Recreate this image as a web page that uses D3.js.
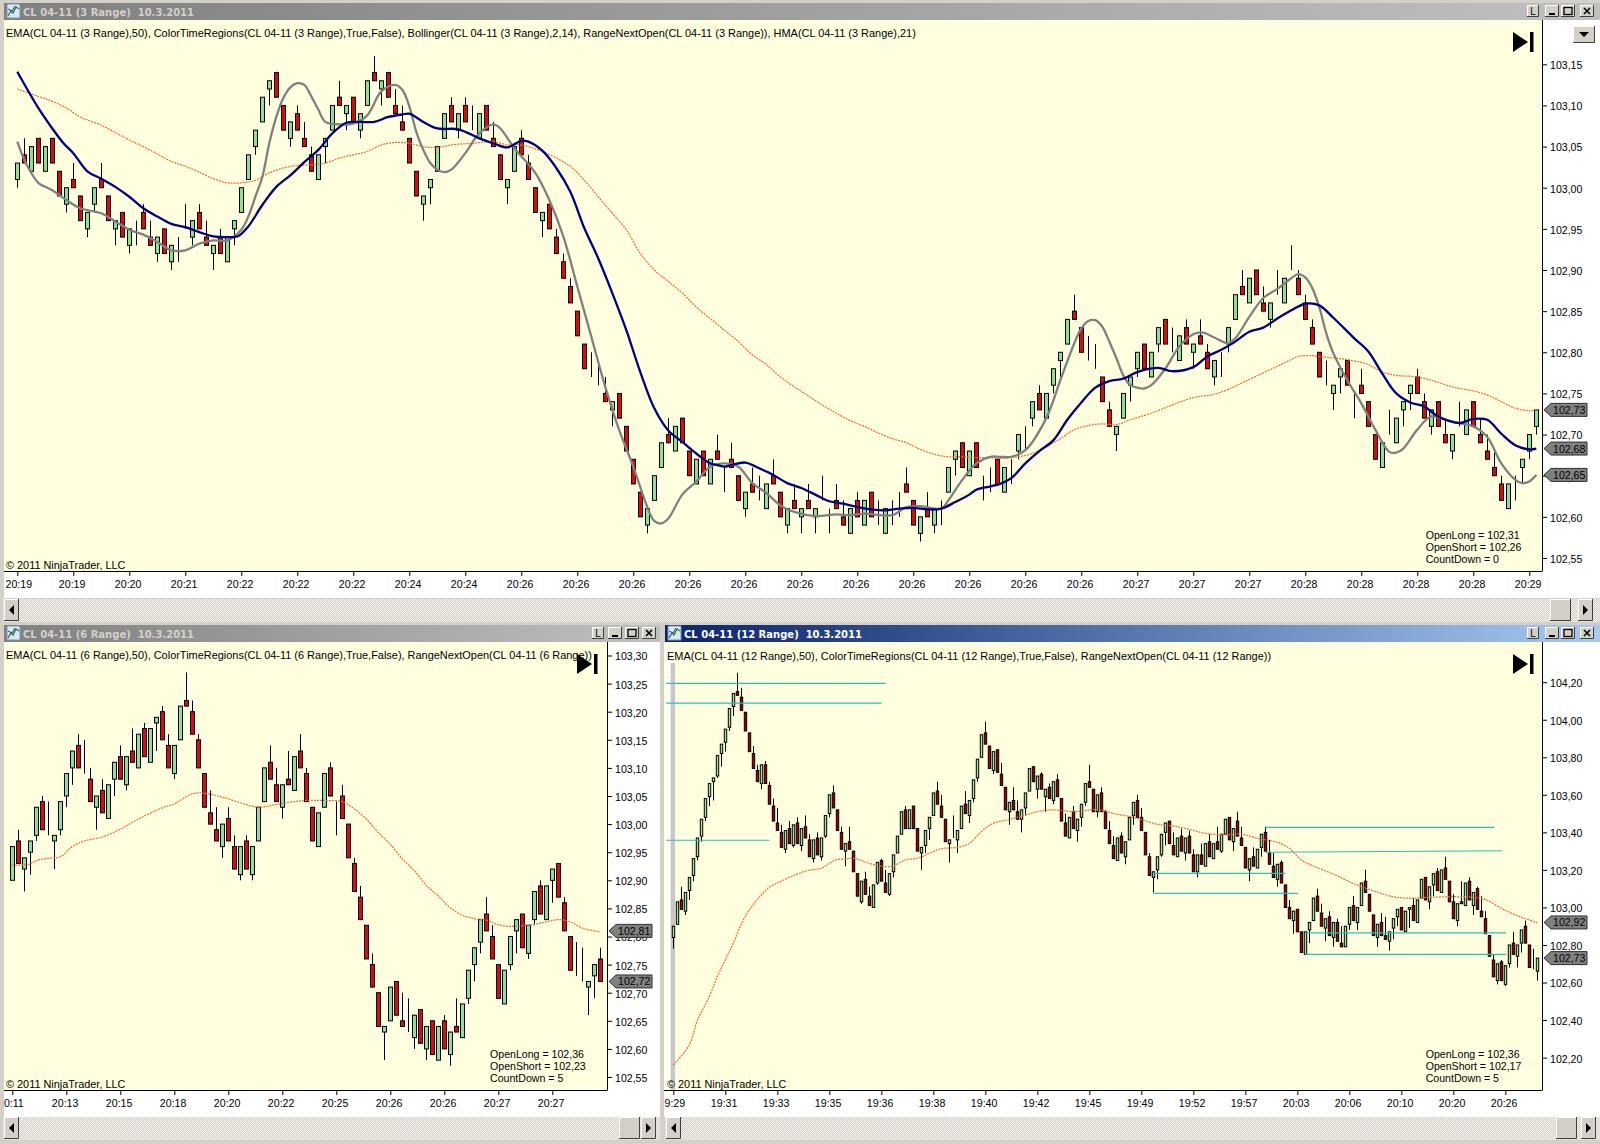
<!DOCTYPE html>
<html>
<head>
<meta charset="utf-8">
<title>CL 04-11 range charts</title>
<script src="https://cdnjs.cloudflare.com/ajax/libs/d3/7.8.5/d3.min.js"></script>
<style>
  html, body { margin: 0; padding: 0; background: #fff; }
  svg { display: block; }
  text { font-family: "Liberation Sans", Arial, sans-serif; white-space: pre; }
</style>
</head>
<body>
<script>
// ---- 3 range chart values ----
const open3 = [
103.01,103.04,103.02,103.06,103.02,103.06,103.02,102.98,103.01,102.99,
102.95,102.98,103.01,102.99,102.95,102.97,102.93,102.96,102.97,102.94,
102.92,102.95,102.91,102.94,102.95,102.94,102.97,102.94,102.92,102.94,
102.91,102.95,102.97,103.01,103.05,103.08,103.12,103.14,103.10,103.06,
103.09,103.06,103.04,103.01,103.05,103.07,103.11,103.09,103.11,103.07,
103.10,103.14,103.12,103.14,103.10,103.08,103.06,103.02,102.98,103.00,
103.02,103.06,103.10,103.07,103.10,103.07,103.06,103.10,103.06,103.04,
103.00,103.02,103.06,103.03,103.00,102.96,102.98,102.94,102.91,102.88,
102.85,102.81,102.77,102.76,102.75,102.73,102.75,102.71,102.67,102.63,
102.59,102.62,102.66,102.70,102.68,102.72,102.68,102.64,102.68,102.64,
102.68,102.66,102.67,102.65,102.61,102.64,102.62,102.61,102.65,102.63,
102.59,102.62,102.60,102.62,102.60,102.62,102.61,102.62,102.60,102.58,
102.62,102.59,102.63,102.59,102.58,102.62,102.63,102.64,102.62,102.58,
102.61,102.59,102.62,102.63,102.67,102.69,102.65,102.69,102.65,102.66,
102.67,102.63,102.67,102.68,102.71,102.72,102.75,102.72,102.76,102.79,
102.81,102.85,102.83,102.79,102.78,102.77,102.73,102.70,102.72,102.76,
102.78,102.81,102.77,102.81,102.84,102.80,102.79,102.83,102.80,102.82,
102.80,102.77,102.80,102.81,102.84,102.88,102.86,102.90,102.86,102.84,
102.87,102.86,102.90,102.89,102.86,102.83,102.80,102.76,102.75,102.77,
102.79,102.75,102.76,102.74,102.70,102.66,102.70,102.69,102.73,102.75,
102.77,102.74,102.71,102.74,102.70,102.68,102.71,102.70,102.74,102.70,
102.68,102.66,102.64,102.61,102.65,102.66,102.68,102.71];
const close3 = [
103.03,103.03,103.05,103.03,103.05,103.03,102.99,103.00,103.00,102.96,
102.97,103.00,103.00,102.96,102.96,102.94,102.95,102.96,102.95,102.93,
102.94,102.92,102.93,102.94,102.95,102.96,102.95,102.93,102.93,102.92,
102.94,102.96,103.00,103.04,103.07,103.11,103.13,103.11,103.07,103.08,
103.07,103.05,103.02,103.04,103.06,103.10,103.10,103.10,103.08,103.09,
103.13,103.13,103.13,103.11,103.09,103.07,103.03,102.99,102.99,103.01,
103.05,103.09,103.08,103.09,103.08,103.07,103.09,103.07,103.05,103.01,
103.01,103.05,103.04,103.01,102.97,102.97,102.95,102.92,102.89,102.86,
102.82,102.78,102.77,102.76,102.74,102.74,102.72,102.68,102.64,102.60,
102.61,102.65,102.69,102.69,102.71,102.69,102.65,102.67,102.65,102.67,
102.67,102.66,102.66,102.62,102.63,102.63,102.62,102.64,102.64,102.60,
102.61,102.61,102.61,102.61,102.61,102.62,102.61,102.61,102.59,102.61,
102.60,102.62,102.60,102.59,102.61,102.62,102.63,102.63,102.59,102.60,
102.60,102.61,102.62,102.66,102.68,102.66,102.68,102.66,102.65,102.66,
102.64,102.66,102.67,102.70,102.71,102.74,102.73,102.75,102.78,102.80,
102.84,102.84,102.80,102.79,102.78,102.74,102.71,102.71,102.75,102.77,
102.80,102.78,102.80,102.83,102.81,102.80,102.82,102.81,102.81,102.81,
102.78,102.79,102.80,102.83,102.87,102.87,102.89,102.87,102.85,102.86,
102.87,102.89,102.90,102.87,102.84,102.81,102.77,102.76,102.76,102.78,
102.76,102.75,102.75,102.71,102.67,102.69,102.70,102.72,102.74,102.76,
102.75,102.72,102.73,102.71,102.69,102.70,102.71,102.73,102.71,102.69,
102.67,102.65,102.62,102.64,102.65,102.67,102.70,102.73];
const high3 = [
103.03,103.06,103.05,103.06,103.05,103.06,103.02,103.00,103.03,102.99,
102.97,103.00,103.03,102.99,102.96,102.97,102.95,102.96,102.98,102.96,
102.94,102.95,102.93,102.94,102.98,102.96,102.98,102.96,102.93,102.95,
102.94,102.96,103.00,103.04,103.07,103.11,103.13,103.14,103.10,103.08,
103.10,103.08,103.05,103.04,103.06,103.10,103.13,103.10,103.11,103.09,
103.13,103.16,103.13,103.14,103.12,103.10,103.06,103.02,102.99,103.01,
103.05,103.09,103.11,103.09,103.11,103.10,103.09,103.10,103.08,103.04,
103.01,103.05,103.07,103.04,103.00,102.97,102.98,102.95,102.92,102.89,
102.85,102.81,102.80,102.79,102.77,102.74,102.75,102.71,102.67,102.63,
102.61,102.65,102.69,102.72,102.71,102.72,102.68,102.67,102.68,102.67,
102.70,102.66,102.69,102.65,102.63,102.66,102.65,102.64,102.67,102.63,
102.61,102.64,102.61,102.64,102.61,102.65,102.61,102.64,102.62,102.61,
102.63,102.62,102.63,102.62,102.61,102.62,102.63,102.66,102.62,102.60,
102.63,102.61,102.62,102.66,102.68,102.69,102.68,102.69,102.65,102.66,
102.67,102.66,102.67,102.70,102.71,102.74,102.76,102.75,102.78,102.80,
102.84,102.87,102.83,102.82,102.81,102.77,102.74,102.71,102.75,102.77,
102.80,102.81,102.80,102.83,102.84,102.83,102.82,102.84,102.81,102.84,
102.81,102.79,102.80,102.83,102.87,102.90,102.89,102.90,102.88,102.86,
102.90,102.89,102.93,102.90,102.87,102.84,102.80,102.79,102.76,102.78,
102.79,102.75,102.78,102.74,102.70,102.69,102.73,102.72,102.74,102.76,
102.78,102.75,102.73,102.74,102.72,102.70,102.74,102.73,102.74,102.72,
102.70,102.68,102.65,102.64,102.65,102.67,102.70,102.73];
const low3 = [
103.00,103.03,103.02,103.03,103.02,103.03,102.99,102.97,103.00,102.96,
102.94,102.97,103.00,102.96,102.93,102.94,102.92,102.93,102.95,102.93,
102.91,102.92,102.90,102.91,102.95,102.93,102.95,102.93,102.90,102.92,
102.91,102.93,102.97,103.01,103.04,103.08,103.10,103.11,103.07,103.05,
103.07,103.05,103.02,103.01,103.03,103.07,103.10,103.07,103.08,103.06,
103.10,103.13,103.10,103.11,103.09,103.07,103.03,102.99,102.96,102.98,
103.02,103.06,103.08,103.06,103.08,103.07,103.06,103.07,103.05,103.01,
102.98,103.02,103.04,103.01,102.97,102.94,102.95,102.92,102.89,102.86,
102.82,102.78,102.77,102.76,102.74,102.71,102.72,102.68,102.64,102.60,
102.58,102.62,102.66,102.69,102.68,102.69,102.65,102.64,102.65,102.64,
102.67,102.63,102.66,102.62,102.60,102.63,102.62,102.61,102.64,102.60,
102.58,102.61,102.58,102.61,102.58,102.62,102.58,102.61,102.59,102.58,
102.60,102.59,102.60,102.59,102.58,102.59,102.60,102.63,102.59,102.57,
102.60,102.58,102.59,102.63,102.65,102.66,102.65,102.66,102.62,102.63,
102.64,102.63,102.64,102.67,102.68,102.71,102.73,102.72,102.75,102.77,
102.81,102.84,102.80,102.79,102.78,102.74,102.71,102.68,102.72,102.74,
102.77,102.78,102.77,102.80,102.81,102.80,102.79,102.81,102.78,102.81,
102.78,102.76,102.77,102.80,102.84,102.87,102.86,102.87,102.85,102.83,
102.87,102.86,102.90,102.87,102.84,102.81,102.77,102.76,102.73,102.75,
102.76,102.72,102.75,102.71,102.67,102.66,102.70,102.69,102.71,102.73,
102.75,102.72,102.70,102.71,102.69,102.67,102.71,102.70,102.71,102.69,
102.67,102.65,102.62,102.61,102.62,102.64,102.67,102.70];

const hmaIdx3 = [0,3,5,6.6,8,10,12,14,16,18,20,22,24,26,28,30,31.5,33,35,37,39,41,43,45,47,49,51,53,55,56,58,60,63,66,68,70,72,73,75,77,79,81,83,85,87,89,91,93,95,97,99,100,101,102,104,106,108,110,112,114,116,118,120,122,124,126,128,130,132,134,136,137,139,140.4,142,144,146,148,150,152,154,156,158,160,163,165,168,170,172,174,176,178,180,182,184,186,188,191,193,195,197,199,201,203,206,208,210,212,214,216,217];
const hma3 = [103.141,103.097,103.072,103.054,103.042,103.02,103.011,103.001,102.989,102.975,102.965,102.956,102.952,102.946,102.941,102.94,102.941,102.953,102.979,103.001,103.015,103.031,103.046,103.066,103.079,103.08,103.08,103.086,103.089,103.09,103.08,103.072,103.071,103.06,103.054,103.049,103.057,103.056,103.045,103.024,102.995,102.951,102.914,102.872,102.827,102.776,102.732,102.705,102.691,102.677,102.665,102.663,102.661,102.663,102.666,102.659,102.651,102.641,102.635,102.627,102.619,102.616,102.612,102.609,102.608,102.61,102.611,102.609,102.61,102.618,102.627,102.633,102.637,102.64,102.647,102.665,102.68,102.693,102.718,102.739,102.757,102.765,102.768,102.776,102.781,102.777,102.782,102.795,102.803,102.813,102.825,102.83,102.841,102.851,102.859,102.857,102.842,102.817,102.801,102.774,102.75,102.739,102.734,102.722,102.714,102.719,102.718,102.701,102.687,102.682,102.683];
const bollIdx3 = [0,1,2,3,5,7,9,12,14,16,18,20,22,24,26,28,30,32,33,34,35,36,37,38,39,40,41,42,43,44,46,48,50,52,54,55,56,57,58,59,60,61,62,64,66,68,69,71,74,76,78,80,82,84,86,88,90,91,92,93,95,97,99,101,103,105,107,109,111,114,117,119,121,125,127,129,132,133,135,137,139,140.4,142,144,147,149,151,152,153,154,155,156,157,158,159,160,161,162,164,166,168,169.4,171,173,174,176,178,180,182,183,184,185,186,187,188,190,192,194,196,197,198,200,202,204,206,208,210,212,214,215,216,217];
const boll3 = [103.056,103.034,103.018,103.006,102.997,102.985,102.975,102.969,102.959,102.949,102.943,102.934,102.924,102.924,102.932,102.936,102.936,102.949,102.965,102.989,103.013,103.054,103.086,103.109,103.122,103.127,103.125,103.111,103.095,103.08,103.077,103.078,103.088,103.117,103.125,103.119,103.099,103.068,103.046,103.03,103.022,103.019,103.022,103.042,103.066,103.077,103.072,103.048,103.018,102.985,102.941,102.88,102.819,102.758,102.705,102.661,102.612,102.595,102.592,102.598,102.627,102.643,102.661,102.665,102.661,102.641,102.629,102.614,102.606,102.601,102.603,102.602,102.604,102.602,102.612,102.613,102.61,102.62,102.645,102.665,102.673,102.673,102.673,102.681,102.72,102.766,102.811,102.829,102.838,102.839,102.831,102.813,102.793,102.772,102.76,102.757,102.756,102.76,102.78,102.807,102.822,102.824,102.818,102.811,102.817,102.843,102.866,102.877,102.89,102.895,102.891,102.878,102.855,102.823,102.799,102.766,102.738,102.706,102.679,102.678,102.683,102.706,102.722,102.718,102.714,102.71,102.697,102.665,102.645,102.641,102.643,102.651];
const emaIdx3 = [0,3,5,7,9,12,14,16,18,20,22,24,26,28,30,32,34,36,38,40,42,44,46,48,50,52,54,56,58,60,62,65,68,70,72,75,79,81,83,85,87,89,91,93,95,97,99,101,103,105,107,109,111,113,115,117,119,121,123,125,127,129,131,133,135,137,139,140.4,143,145,147,149,151,153,155,157,159,162,165,168,171,173,175,178,181,183,184.5,187,190,193,195,197,200,202,205,208,210,212,214,216,217];
const ema3 = [103.12,103.111,103.105,103.097,103.086,103.076,103.067,103.058,103.05,103.041,103.032,103.026,103.019,103.011,103.006,103.006,103.009,103.018,103.024,103.027,103.028,103.03,103.036,103.04,103.044,103.052,103.055,103.054,103.05,103.049,103.052,103.054,103.056,103.052,103.052,103.044,103.026,103.009,102.989,102.969,102.949,102.92,102.90,102.886,102.872,102.855,102.841,102.827,102.813,102.797,102.785,102.77,102.758,102.747,102.736,102.726,102.717,102.71,102.702,102.695,102.69,102.682,102.676,102.673,102.673,102.672,102.672,102.671,102.673,102.677,102.685,102.695,102.706,102.711,102.713,102.712,102.718,102.726,102.736,102.745,102.749,102.755,102.763,102.775,102.787,102.795,102.796,102.794,102.791,102.785,102.776,102.772,102.77,102.766,102.758,102.753,102.748,102.74,102.732,102.729,102.73];
const ticks3 = [102.55,102.60,102.65,102.70,102.75,102.80,102.85,102.90,102.95,103.00,103.05,103.10,103.15];
const times3 = ["20:19","20:19","20:20","20:21","20:22","20:22","20:22","20:24","20:24","20:26","20:26","20:26","20:26","20:26","20:26","20:26","20:26","20:26","20:26","20:26","20:27","20:27","20:27","20:28","20:28","20:28","20:28","20:29"];
const flags3 = [102.73,102.683,102.651];
const info3 = ["OpenLong = 102,31","OpenShort = 102,26","CountDown = 0"];

// ---- 6 range chart values ----
const open6 = [
102.90,102.97,102.92,102.95,102.98,103.04,102.98,102.97,102.99,103.05,
103.10,103.14,103.09,103.08,103.03,103.06,103.01,103.08,103.12,103.07,
103.13,103.10,103.17,103.11,103.18,103.20,103.14,103.09,103.15,103.22,
103.20,103.15,103.09,103.02,102.99,102.96,103.01,102.96,102.91,102.97,
102.91,102.97,103.04,103.11,103.07,103.03,103.08,103.06,103.13,103.09,
103.03,102.96,103.03,103.10,103.04,103.05,103.00,102.93,102.87,102.82,
102.75,102.70,102.63,102.65,102.72,102.65,102.63,102.62,102.67,102.60,
102.65,102.58,102.65,102.59,102.64,102.62,102.69,102.75,102.79,102.84,
102.80,102.75,102.68,102.75,102.81,102.84,102.77,102.83,102.89,102.83,
102.90,102.93,102.86,102.80,102.73,102.72,102.71,102.73,102.76];
const close6 = [
102.96,102.93,102.94,102.97,103.03,102.99,102.98,102.98,103.04,103.09,
103.13,103.10,103.09,103.04,103.05,103.02,103.07,103.11,103.08,103.12,
103.11,103.16,103.12,103.17,103.19,103.15,103.10,103.14,103.21,103.21,
103.16,103.10,103.03,103.00,102.97,103.00,102.97,102.92,102.96,102.92,
102.96,103.03,103.10,103.08,103.04,103.07,103.07,103.12,103.10,103.04,
102.97,103.02,103.09,103.05,103.04,103.01,102.94,102.88,102.83,102.76,
102.71,102.64,102.64,102.71,102.66,102.64,102.63,102.66,102.61,102.64,
102.59,102.64,102.60,102.63,102.63,102.68,102.74,102.78,102.83,102.81,
102.76,102.69,102.74,102.80,102.83,102.78,102.82,102.88,102.84,102.89,
102.92,102.87,102.81,102.74,102.73,102.72,102.72,102.75,102.72];
const high6 = [
102.96,102.99,102.94,102.97,103.03,103.05,103.04,102.98,103.04,103.09,
103.13,103.16,103.15,103.10,103.05,103.08,103.07,103.11,103.14,103.12,
103.17,103.16,103.18,103.17,103.19,103.21,103.16,103.14,103.21,103.27,
103.22,103.16,103.09,103.06,103.03,103.00,103.03,102.98,102.96,102.98,
102.96,103.03,103.10,103.14,103.10,103.07,103.13,103.12,103.16,103.10,
103.03,103.02,103.09,103.11,103.04,103.07,103.00,102.94,102.89,102.82,
102.77,102.70,102.64,102.71,102.72,102.70,102.69,102.66,102.67,102.64,
102.65,102.64,102.66,102.63,102.69,102.68,102.74,102.78,102.83,102.87,
102.82,102.75,102.74,102.80,102.83,102.84,102.82,102.88,102.90,102.89,
102.92,102.93,102.87,102.80,102.79,102.78,102.72,102.75,102.78];
const low6 = [
102.90,102.93,102.88,102.91,102.97,102.99,102.98,102.92,102.98,103.03,
103.07,103.10,103.09,103.04,102.99,103.02,103.01,103.05,103.08,103.06,
103.11,103.10,103.12,103.11,103.13,103.15,103.10,103.08,103.15,103.21,
103.16,103.10,103.03,103.00,102.97,102.94,102.97,102.92,102.90,102.92,
102.90,102.97,103.04,103.08,103.04,103.01,103.07,103.06,103.10,103.04,
102.97,102.96,103.03,103.05,102.98,103.01,102.94,102.88,102.83,102.76,
102.71,102.64,102.58,102.65,102.66,102.64,102.63,102.60,102.61,102.58,
102.59,102.58,102.60,102.57,102.63,102.62,102.68,102.72,102.77,102.81,
102.76,102.69,102.68,102.74,102.77,102.78,102.76,102.82,102.84,102.83,
102.86,102.87,102.81,102.74,102.73,102.72,102.66,102.69,102.72];
const emaIdx6 = [0,3,4,6,8,10,12,15,18,21,25,27,30,32,35,38,41,44,47,49,52,55,57,59,61,63,65,67,69,71,73,75,77,79,81,83,86,89,91,93,95,98];
const ema6 = [102.927,102.929,102.935,102.939,102.942,102.96,102.97,102.977,102.991,103.009,103.029,103.036,103.054,103.055,103.048,103.038,103.03,103.035,103.04,103.042,103.042,103.04,103.027,103.009,102.985,102.964,102.938,102.917,102.891,102.872,102.851,102.838,102.832,102.829,102.821,102.818,102.82,102.826,102.83,102.826,102.815,102.808];
const ticks6 = [102.55,102.60,102.65,102.70,102.75,102.80,102.85,102.90,102.95,103.00,103.05,103.10,103.15,103.20,103.25,103.30];
const times6 = ["0:11","20:13","20:15","20:18","20:20","20:22","20:25","20:26","20:26","20:27","20:27"];
const flags6 = [102.81,102.72];
const info6 = ["OpenLong = 102,36","OpenShort = 102,23","CountDown = 5"];

// ---- 12 range chart values ----
const open12 = [
102.84,102.91,103.04,102.98,103.09,103.17,103.27,103.38,103.48,103.59,
103.67,103.70,103.82,103.88,103.96,104.07,104.15,104.12,104.04,103.93,
103.82,103.73,103.66,103.76,103.65,103.54,103.45,103.40,103.31,103.42,
103.33,103.45,103.33,103.43,103.36,103.26,103.37,103.27,103.38,103.50,
103.61,103.52,103.40,103.30,103.35,103.30,103.18,103.03,103.15,103.06,
103.00,103.13,103.25,103.13,103.07,103.19,103.29,103.39,103.52,103.42,
103.54,103.42,103.29,103.33,103.42,103.49,103.62,103.54,103.47,103.34,
103.37,103.36,103.42,103.55,103.49,103.58,103.69,103.80,103.93,103.86,
103.73,103.84,103.71,103.64,103.51,103.57,103.51,103.47,103.53,103.62,
103.75,103.63,103.71,103.59,103.64,103.57,103.68,103.58,103.45,103.37,
103.51,103.41,103.48,103.56,103.67,103.63,103.51,103.61,103.51,103.41,
103.33,103.25,103.38,103.27,103.36,103.49,103.57,103.48,103.40,103.27,
103.16,103.20,103.28,103.40,103.46,103.33,103.27,103.38,103.29,103.38,
103.28,103.19,103.28,103.22,103.35,103.26,103.35,103.30,103.39,103.48,
103.35,103.46,103.37,103.32,103.20,103.27,103.21,103.32,103.40,103.29,
103.22,103.15,103.24,103.12,103.00,102.93,102.99,102.87,102.75,102.88,
102.93,103.06,102.97,102.89,102.95,102.84,102.92,102.81,102.79,102.91,
103.01,102.92,103.01,103.14,103.07,102.96,102.84,102.92,102.85,102.82,
102.89,102.95,103.00,102.87,102.99,103.01,102.92,103.05,103.16,103.03,
103.12,103.19,103.08,103.21,103.14,103.03,102.93,103.03,103.01,103.14,
103.01,103.10,102.98,102.94,102.85,102.72,102.61,102.71,102.59,102.70,
102.81,102.74,102.81,102.90,102.80,102.67,102.66];
const close12 = [
102.90,103.03,102.99,103.08,103.16,103.26,103.37,103.47,103.58,103.66,
103.69,103.81,103.87,103.95,104.06,104.14,104.13,104.05,103.94,103.83,
103.74,103.67,103.76,103.66,103.55,103.46,103.41,103.32,103.41,103.34,
103.44,103.34,103.42,103.37,103.27,103.36,103.28,103.37,103.49,103.60,
103.53,103.41,103.31,103.34,103.31,103.19,103.06,103.14,103.07,103.01,
103.12,103.24,103.14,103.08,103.18,103.28,103.38,103.51,103.42,103.52,
103.42,103.30,103.32,103.41,103.48,103.61,103.55,103.48,103.35,103.36,
103.37,103.41,103.54,103.50,103.57,103.68,103.79,103.92,103.87,103.74,
103.83,103.72,103.65,103.52,103.56,103.52,103.47,103.52,103.61,103.74,
103.67,103.70,103.63,103.63,103.58,103.67,103.59,103.46,103.38,103.48,
103.42,103.47,103.55,103.66,103.64,103.51,103.60,103.51,103.42,103.34,
103.26,103.37,103.29,103.35,103.48,103.56,103.48,103.41,103.28,103.17,
103.19,103.27,103.39,103.45,103.34,103.28,103.37,103.30,103.37,103.29,
103.19,103.28,103.23,103.34,103.27,103.34,103.31,103.39,103.47,103.36,
103.42,103.38,103.33,103.21,103.26,103.22,103.31,103.39,103.30,103.23,
103.16,103.23,103.13,103.00,102.94,102.98,102.87,102.76,102.87,102.92,
103.05,102.98,102.90,102.94,102.85,102.92,102.82,102.79,102.90,103.00,
102.93,103.00,103.13,103.08,102.98,102.85,102.91,102.85,102.83,102.87,
102.94,102.99,102.88,102.98,103.00,102.93,103.04,103.15,103.04,103.11,
103.18,103.09,103.20,103.15,103.03,102.94,103.02,103.02,103.13,103.04,
103.08,102.99,102.95,102.86,102.74,102.63,102.70,102.61,102.69,102.80,
102.75,102.80,102.88,102.81,102.68,102.67,102.73];
const high12 = [
102.90,103.03,103.11,103.08,103.16,103.26,103.37,103.47,103.58,103.66,
103.69,103.81,103.87,103.95,104.06,104.14,104.25,104.17,104.04,103.93,
103.86,103.76,103.76,103.78,103.67,103.58,103.53,103.44,103.41,103.46,
103.44,103.48,103.42,103.49,103.39,103.36,103.40,103.37,103.49,103.60,
103.65,103.52,103.43,103.34,103.43,103.30,103.18,103.14,103.19,103.11,
103.12,103.24,103.26,103.20,103.18,103.28,103.38,103.51,103.54,103.52,
103.54,103.42,103.32,103.41,103.48,103.61,103.67,103.60,103.47,103.36,
103.49,103.41,103.54,103.62,103.57,103.68,103.79,103.92,103.99,103.86,
103.83,103.84,103.77,103.64,103.56,103.64,103.57,103.52,103.61,103.74,
103.75,103.70,103.72,103.63,103.66,103.67,103.71,103.58,103.50,103.48,
103.54,103.47,103.55,103.66,103.76,103.63,103.60,103.64,103.52,103.46,
103.38,103.37,103.40,103.35,103.48,103.56,103.60,103.53,103.40,103.29,
103.19,103.27,103.39,103.45,103.46,103.40,103.37,103.42,103.37,103.41,
103.31,103.28,103.34,103.34,103.39,103.34,103.43,103.39,103.47,103.48,
103.42,103.51,103.43,103.32,103.26,103.32,103.31,103.39,103.43,103.36,
103.29,103.23,103.25,103.12,103.04,102.98,102.99,102.87,102.87,102.92,
103.05,103.10,103.02,102.94,102.98,102.92,102.94,102.90,102.90,103.00,
103.06,103.00,103.13,103.20,103.07,102.96,102.91,102.97,102.95,102.87,
102.94,102.99,103.00,102.98,103.00,103.05,103.04,103.15,103.16,103.11,
103.18,103.21,103.20,103.27,103.14,103.07,103.02,103.14,103.13,103.16,
103.08,103.11,103.06,102.98,102.85,102.75,102.70,102.72,102.69,102.80,
102.87,102.80,102.88,102.93,102.80,102.78,102.73];
const low12 = [
102.78,102.91,102.99,102.96,103.04,103.14,103.25,103.35,103.46,103.54,
103.57,103.69,103.75,103.83,103.94,104.02,104.13,104.05,103.94,103.83,
103.74,103.67,103.63,103.66,103.55,103.46,103.41,103.32,103.29,103.34,
103.32,103.34,103.30,103.37,103.27,103.24,103.28,103.25,103.37,103.48,
103.53,103.41,103.31,103.22,103.31,103.19,103.06,103.02,103.07,103.01,
103.00,103.12,103.14,103.08,103.06,103.16,103.29,103.39,103.42,103.42,
103.42,103.30,103.20,103.29,103.36,103.49,103.55,103.48,103.35,103.24,
103.37,103.29,103.42,103.50,103.45,103.56,103.67,103.80,103.87,103.74,
103.71,103.72,103.65,103.52,103.44,103.52,103.47,103.40,103.49,103.62,
103.67,103.58,103.63,103.51,103.58,103.55,103.59,103.46,103.38,103.37,
103.42,103.35,103.43,103.54,103.64,103.51,103.48,103.51,103.42,103.34,
103.26,103.25,103.29,103.23,103.36,103.44,103.48,103.41,103.28,103.17,
103.08,103.15,103.27,103.33,103.34,103.28,103.27,103.30,103.25,103.29,
103.19,103.16,103.23,103.22,103.27,103.26,103.31,103.29,103.39,103.36,
103.30,103.38,103.33,103.21,103.14,103.22,103.21,103.27,103.30,103.23,
103.16,103.11,103.13,103.00,102.94,102.86,102.87,102.76,102.75,102.81,
102.93,102.98,102.90,102.82,102.85,102.79,102.82,102.79,102.79,102.88,
102.93,102.88,103.01,103.08,102.98,102.85,102.79,102.85,102.83,102.77,
102.83,102.90,102.88,102.87,102.89,102.93,102.92,103.05,103.04,102.99,
103.06,103.09,103.08,103.15,103.03,102.94,102.90,103.02,103.01,103.04,
102.96,102.99,102.95,102.86,102.74,102.63,102.59,102.61,102.58,102.68,
102.75,102.68,102.76,102.81,102.68,102.67,102.61];
const emaIdx12 = [0,4,6,9,11,13,15,17,19,22,24,27,30,34,37,39,41,43,45,49,53,55,58,61,64,67,71,74,77,80,84,88,92,96,100,104,107,110,115,121,125,129,133,138,142,146,151,154,157,160,165,170,175,180,184,189,195,200,203,207,211,216];
const ema12 = [102.16,102.267,102.397,102.525,102.631,102.72,102.809,102.912,102.986,103.066,103.107,103.14,103.169,103.199,103.208,103.235,103.256,103.258,103.262,103.235,103.217,103.221,103.253,103.262,103.288,103.313,103.32,103.341,103.404,103.448,103.469,103.492,103.515,103.519,103.51,103.519,103.519,103.501,103.48,103.443,103.434,103.416,103.395,103.386,103.391,103.368,103.347,103.315,103.253,103.221,103.178,103.128,103.089,103.057,103.049,103.054,103.057,103.054,103.043,102.995,102.956,102.919];
const ticks12 = [102.20,102.40,102.60,102.80,103.00,103.20,103.40,103.60,103.80,104.00,104.20];
const times12 = ["9:29","19:31","19:33","19:35","19:36","19:38","19:40","19:42","19:45","19:49","19:52","19:57","20:03","20:06","20:10","20:20","20:26"];
const flags12 = [102.92,102.73];
const info12 = ["OpenLong = 102,36","OpenShort = 102,17","CountDown = 5"];
// RangeNextOpen levels drawn in the 12 range chart
const levelFrom12 = [-1.8,-1.8,-1.8,148,148,120,120,158.3,158];
const levelTo12 = [53.1,52.1,24,205.25,207.2,153,156.25,208.2,208.2];
const levelStart12 = [104.194,104.088,103.358,103.427,103.294,103.182,103.075,102.865,102.75];
const levelEnd12 = [104.194,104.088,103.358,103.427,103.302,103.182,103.075,102.865,102.75];

const svg = d3.select("body").append("svg").attr("width", 1600).attr("height", 1144);
const defs = svg.append("defs");

// the dithered scrollbar track
const dither = defs.append("pattern").attr("id", "dither").attr("width", 2).attr("height", 2).attr("patternUnits", "userSpaceOnUse");
dither.append("rect").attr("width", 2).attr("height", 2).attr("fill", "#D4D0C8");
dither.append("rect").attr("width", 1).attr("height", 1).attr("fill", "#F4F2EE");
dither.append("rect").attr("x", 1).attr("y", 1).attr("width", 1).attr("height", 1).attr("fill", "#F4F2EE");

function titleGradient(id, from, to) {
  const g = defs.append("linearGradient").attr("id", id);
  g.append("stop").attr("offset", "0%").attr("stop-color", from);
  g.append("stop").attr("offset", "100%").attr("stop-color", to);
}
titleGradient("titleOff", "#808080", "#C0C0C0");
titleGradient("titleOn", "#0A246A", "#A6CAF0");

svg.append("rect").attr("width", 1600).attr("height", 1144).attr("fill", "#D4D0C8");

function button(x, y, w, h) {
  svg.append("rect").attr("x", x).attr("y", y).attr("width", w).attr("height", h).attr("fill", "#D4D0C8");
  svg.append("path").attr("d", `M${x + .5},${y + h}V${y + .5}H${x + w}`).attr("fill", "none").attr("stroke", "#fff");
  svg.append("path").attr("d", `M${x + w - .5},${y}V${y + h - .5}H${x}`).attr("fill", "none").attr("stroke", "#404040");
}

function titleBar(x0, x1, y, text, active, btns) {
  svg.append("rect").attr("x", x0).attr("y", y).attr("width", x1 - x0).attr("height", 17)
    .attr("fill", active ? "url(#titleOn)" : "url(#titleOff)");
  // little chart icon
  svg.append("rect").attr("x", x0 + 3).attr("y", y + 1).attr("width", 13).attr("height", 14).attr("fill", "#DCE8F4").attr("stroke", "#8090B0");
  svg.append("path").attr("d", `M${x0 + 4},${y + 13}l3,-5l2,2l3,-6l3,2`).attr("fill", "none").attr("stroke", "#2F7F3F").attr("stroke-width", 1.4);
  svg.append("path").attr("d", `M${x0 + 4},${y + 6}l4,2l3,-5`).attr("fill", "none").attr("stroke", "#2040A0");
  svg.append("text").attr("x", x0 + 19).attr("y", y + 12.5).text(text)
    .style("font-family", '"DejaVu Sans", Verdana, sans-serif').style("font-weight", "bold").style("font-size", "10px")
    .attr("fill", active ? "#fff" : "#D4D0C8");
  const by = y + 2;
  // L, minimise, maximise, close
  button(btns[0], by, 12, 12);
  svg.append("text").attr("x", btns[0] + 6).attr("y", by + 10).attr("text-anchor", "middle").attr("fill", "#000").style("font-size", "10px").text("L");
  button(btns[1], by, 14, 12);
  svg.append("rect").attr("x", btns[1] + 4).attr("y", by + 8).attr("width", 6).attr("height", 2).attr("fill", "#000");
  button(btns[2], by, 14, 12);
  svg.append("rect").attr("x", btns[2] + 3).attr("y", by + 2.5).attr("width", 8).attr("height", 7).attr("fill", "none").attr("stroke", "#000").attr("stroke-width", 1.3);
  button(btns[3], by, 14, 12);
  svg.append("path").attr("d", `M${btns[3] + 4},${by + 3}l6,6m0,-6l-6,6`).attr("stroke", "#000").attr("stroke-width", 1.6);
}

function scrollBar(x0, x1, y, thumb, arrowBtn) {
  svg.append("rect").attr("x", x0).attr("y", y).attr("width", x1 - x0).attr("height", 23).attr("fill", "url(#dither)");
  button(x0 + 1, y, 15, 22);
  svg.append("path").attr("d", `M${x0 + 6},${y + 11}l5,-5v10z`).attr("fill", "#000");
  button(thumb, y, 21, 22);
  button(arrowBtn, y, 15, 22);
  svg.append("path").attr("d", `M${arrowBtn + 10},${y + 11}l-5,-5v10z`).attr("fill", "#000");
}

// one chart window: candles, overlays, axes and labels
function drawChart(c) {
  // white pane
  svg.append("rect").attr("x", c.winX0).attr("y", c.plotTop).attr("width", c.winX1 - c.winX0).attr("height", c.winBottom - c.plotTop).attr("fill", "#fff");
  svg.append("rect").attr("x", c.plotLeft).attr("y", c.plotTop).attr("width", c.plotRight - c.plotLeft).attr("height", c.plotBottom - c.plotTop).attr("fill", "#FFFFE0");
  if (c.edgeLeft != null) {
    svg.append("rect").attr("x", c.edgeLeft).attr("y", c.plotTop).attr("width", c.plotLeft - c.edgeLeft).attr("height", c.plotBottom - c.plotTop).attr("fill", "#FFFFEE");
  }

  const x = d3.scaleLinear().domain([0, c.lastBar]).range(c.xRange);
  const y = d3.scaleLinear().domain(c.yDomain).range(c.yRange);

  const left = c.edgeLeft != null ? c.edgeLeft : c.plotLeft;
  const clipId = "clip" + c.id;
  defs.append("clipPath").attr("id", clipId).append("rect")
    .attr("x", left).attr("y", c.plotTop).attr("width", c.plotRight - left).attr("height", c.plotBottom - c.plotTop);

  // legend text
  svg.append("text").attr("x", c.legendX).attr("y", c.legendY).attr("fill", "#000").style("font-size", "10.94px").text(c.legend);

  const plot = svg.append("g").attr("clip-path", `url(#${clipId})`);

  if (c.regionBar != null) {
    plot.append("rect").attr("x", x(c.regionBar) - 2.3).attr("y", c.plotTop + 21).attr("width", 4.5).attr("height", c.plotBottom - c.plotTop).attr("fill", "#C8C8C8");
  }

  const bars = d3.range(c.open.length);
  // wicks
  plot.append("g").selectAll("line").data(bars).join("line")
    .attr("x1", i => Math.round(x(i)) + .5).attr("x2", i => Math.round(x(i)) + .5)
    .attr("y1", i => y(c.high[i])).attr("y2", i => y(c.low[i]))
    .attr("stroke", "#000").attr("stroke-width", 1);
  // bodies
  plot.append("g").selectAll("rect").data(bars).join("rect")
    .attr("x", i => Math.round(x(i)) + .5 - c.bodyW / 2)
    .attr("width", c.bodyW)
    .attr("y", i => y(Math.max(c.open[i], c.close[i])))
    .attr("height", i => Math.abs(y(c.open[i]) - y(c.close[i])))
    .attr("fill", i => c.close[i] > c.open[i] ? c.up : c.close[i] < c.open[i] ? c.down : "#000")
    .attr("stroke", "#000").attr("stroke-width", 1);

  const line = d3.line().x(d => x(d[0])).y(d => y(d[1])).curve(d3.curveCatmullRom.alpha(0.5));

  plot.append("path").datum(d3.zip(c.emaIdx, c.ema)).attr("d", line)
    .attr("fill", "none").attr("stroke", "#E8703A").attr("stroke-width", 1.25).attr("stroke-dasharray", "2,1");
  if (c.boll) {
    plot.append("path").datum(d3.zip(c.bollIdx, c.boll)).attr("d", line)
      .attr("fill", "none").attr("stroke", "#808080").attr("stroke-width", 2.3);
  }
  if (c.hma) {
    plot.append("path").datum(d3.zip(c.hmaIdx, c.hma)).attr("d", line)
      .attr("fill", "none").attr("stroke", "#000080").attr("stroke-width", 2.3);
  }
  // horizontal levels
  if (c.levelFrom) {
    plot.append("g").selectAll("line").data(c.levelFrom.map((d, i) => i)).join("line")
      .attr("x1", i => x(c.levelFrom[i])).attr("x2", i => x(c.levelTo[i]))
      .attr("y1", i => y(c.levelStart[i])).attr("y2", i => y(c.levelEnd[i]))
      .attr("stroke", "#30BDB8").attr("stroke-width", 1.2);
  }

  // right price axis
  const yAxis = d3.axisRight(y).tickValues(c.ticks).tickSize(5).tickPadding(3)
    .tickFormat(d => d.toFixed(2).replace(".", ","));
  const yG = svg.append("g").attr("transform", `translate(${c.plotRight},0)`).call(yAxis);
  yG.select(".domain").remove();
  yG.selectAll("text").style("font-family", '"Liberation Sans", Arial, sans-serif').style("font-size", "10.6px").attr("fill", "#000").attr("transform", "translate(0,1)");
  svg.append("line").attr("x1", c.plotRight + .5).attr("x2", c.plotRight + .5).attr("y1", c.plotTop + (c.axisTopGap || 0)).attr("y2", c.plotBottom + .5).attr("stroke", "#000");

  // bottom time axis
  const tickBars = c.times.map((d, i) => i * c.tickStep);
  const xAxis = d3.axisBottom(x).tickValues(tickBars).tickSize(5).tickPadding(3)
    .tickFormat(d => c.times[d / c.tickStep]);
  const xG = svg.append("g").attr("transform", `translate(0,${c.plotBottom})`).call(xAxis);
  xG.select(".domain").remove();
  xG.selectAll("text").style("font-family", '"Liberation Sans", Arial, sans-serif').style("font-size", "10.6px").attr("fill", "#000")
    .attr("transform", d => d === 0 ? "translate(1,1)" : "translate(-1.7,1)");
  svg.append("line").attr("x1", left).attr("x2", c.plotRight).attr("y1", c.plotBottom + .5).attr("y2", c.plotBottom + .5).attr("stroke", "#000");

  // last value flags on the price axis
  c.flags.forEach(v => {
    const fy = y(v), fx = c.plotRight + 2;
    svg.append("path").attr("d", `M${fx},${fy}l7,-6.5H${fx + 43}v13H${fx + 7}z`)
      .attr("fill", "#808080").attr("stroke", "#303030");
    svg.append("text").attr("x", fx + 9).attr("y", fy + 4).attr("fill", "#000").style("font-size", "10.6px")
      .text(v.toFixed(2).replace(".", ","));
  });

  // OpenLong / OpenShort / CountDown block
  c.info.forEach((t, i) => {
    svg.append("text").attr("x", c.infoX).attr("y", c.infoY + i * 12).attr("fill", "#000").style("font-size", "10.6px").text(t);
  });
  svg.append("text").attr("x", c.copyX).attr("y", c.plotBottom - 2.5).attr("fill", "#000").style("font-size", "10.9px").text("© 2011 NinjaTrader, LLC");

  // go-to-end marker
  const m = c.marker;
  svg.append("path").attr("d", `M${m[0]},${m[1]}l15,10l-15,10z`).attr("fill", "#000");
  svg.append("rect").attr("x", m[0] + 17).attr("y", m[1]).attr("width", 3.5).attr("height", 20).attr("fill", "#000");
}

// top window
drawChart({
  id: 3, winX0: 4, winX1: 1600, winBottom: 598, plotTop: 20, plotLeft: 4, plotRight: 1542, plotBottom: 571,
  lastBar: 217, xRange: [17.3, 1536.3], yDomain: [102.55, 103.15], yRange: [558, 64.3],
  open: open3, close: close3, high: high3, low: low3, bodyW: 4, up: "#90E090", down: "#DD0A0A",
  emaIdx: emaIdx3, ema: ema3, bollIdx: bollIdx3, boll: boll3, hmaIdx: hmaIdx3, hma: hma3,
  ticks: ticks3, times: times3, tickStep: 8, flags: flags3, info: info3, infoX: 1425.7, infoY: 538.5, copyX: 6,
  legend: "EMA(CL 04-11 (3 Range),50), ColorTimeRegions(CL 04-11 (3 Range),True,False), Bollinger(CL 04-11 (3 Range),2,14), RangeNextOpen(CL 04-11 (3 Range)), HMA(CL 04-11 (3 Range),21)",
  legendX: 6, legendY: 36.5, marker: [1513, 32]
});

// bottom left window
drawChart({
  id: 6, winX0: 4, winX1: 660, winBottom: 1117, plotTop: 642, plotLeft: 4, plotRight: 607, plotBottom: 1090,
  lastBar: 98, xRange: [12.3, 600.3], yDomain: [102.55, 103.30], yRange: [1077, 655.5],
  open: open6, close: close6, high: high6, low: low6, bodyW: 4, up: "#90E090", down: "#DD0A0A",
  emaIdx: emaIdx6, ema: ema6,
  ticks: ticks6, times: times6, tickStep: 9, flags: flags6, info: info6, infoX: 490, infoY: 1057.5, copyX: 6,
  legend: "EMA(CL 04-11 (6 Range),50), ColorTimeRegions(CL 04-11 (6 Range),True,False), RangeNextOpen(CL 04-11 (6 Range))",
  legendX: 6, legendY: 658.5, marker: [577, 654]
});

// bottom right window
drawChart({
  id: 12, winX0: 664, winX1: 1600, winBottom: 1117, plotTop: 642, plotLeft: 671, edgeLeft: 664, plotRight: 1542, plotBottom: 1090,
  lastBar: 216, xRange: [673.3, 1537.3], yDomain: [102.20, 104.20], yRange: [1057.6, 682.2],
  open: open12, close: close12, high: high12, low: low12, bodyW: 2.4, up: "#A8E0A8", down: "#A00000",
  emaIdx: emaIdx12, ema: ema12, regionBar: -0.1,
  levelFrom: levelFrom12, levelTo: levelTo12, levelStart: levelStart12, levelEnd: levelEnd12,
  ticks: ticks12, times: times12, tickStep: 13, flags: flags12, info: info12, infoX: 1425.7, infoY: 1057.5, copyX: 667,
  legend: "EMA(CL 04-11 (12 Range),50), ColorTimeRegions(CL 04-11 (12 Range),True,False), RangeNextOpen(CL 04-11 (12 Range))",
  legendX: 667, legendY: 659.5, marker: [1513, 654]
});

// window frames
titleBar(4, 1600, 3, "CL 04-11 (3 Range)  10.3.2011", false, [1527, 1545, 1561, 1580]);
titleBar(4, 660, 625, "CL 04-11 (6 Range)  10.3.2011", false, [592, 608, 625, 642]);
titleBar(665, 1600, 625, "CL 04-11 (12 Range)  10.3.2011", true, [1527, 1545, 1561, 1580]);

button(1573, 26, 22, 17);
svg.append("path").attr("d", "M1579,32h10l-5,5z").attr("fill", "#000");

scrollBar(3, 1600, 599, 1550, 1578);
scrollBar(3, 660, 1117, 619, 641);
scrollBar(665, 1600, 1117, 1556, 1581);
</script>
</body>
</html>
